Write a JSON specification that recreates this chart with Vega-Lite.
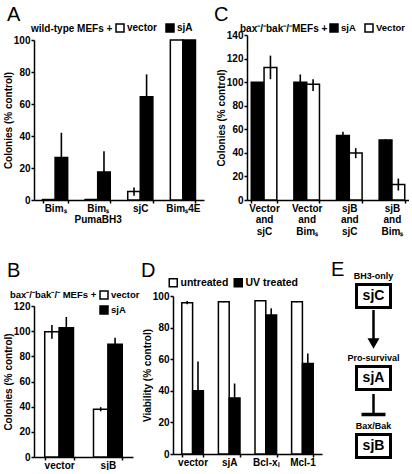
{
 "$schema": "https://vega.github.io/schema/vega-lite/v6.json",
 "background": "white",
 "padding": {"left": 3, "top": 5, "right": 0, "bottom": 0},
 "spacing": 24,
 "resolve": {"scale": {"color": "independent", "x": "independent", "y": "independent", "xOffset": "independent"}, "legend": {"color": "independent"}},
 "vconcat": [
  {
   "hconcat": [
    {
     "width": 170, "height": 165,
     "title": {"text": "A", "dx": -27, "dy": 6},
     "data": {"values": [
      {"cat": "Bimₛ", "grp": "vector", "v": 0.3},
      {"cat": "Bimₛ", "grp": "sjA", "v": 26.5, "lo": 11, "hi": 42},
      {"cat": "Bimₛ|PumaBH3", "grp": "vector", "v": 0.3},
      {"cat": "Bimₛ|PumaBH3", "grp": "sjA", "v": 17.5, "lo": 5, "hi": 30.5},
      {"cat": "sjC", "grp": "vector", "v": 5.3, "lo": 2.7, "hi": 7.8},
      {"cat": "sjC", "grp": "sjA", "v": 64.5, "lo": 50, "hi": 78.5},
      {"cat": "Bimₛ4E", "grp": "vector", "v": 100},
      {"cat": "Bimₛ4E", "grp": "sjA", "v": 100}
     ]},
     "encoding": {
      "x": {"field": "cat", "type": "nominal", "sort": ["Bimₛ", "Bimₛ|PumaBH3", "sjC", "Bimₛ4E"], "scale": {"paddingInner": 0.41, "paddingOuter": 0.2}, "axis": {"title": null, "labelExpr": "split(datum.label, '|')"}}},
     "layer": [
      {"mark": {"type": "bar"},
       "encoding": {
        "xOffset": {"field": "grp", "type": "nominal", "sort": ["vector", "sjA"], "scale": {"paddingInner": 0, "paddingOuter": 0}},
        "y": {"field": "v", "type": "quantitative", "scale": {"domain": [0, 100], "range": [165, 5], "nice": false}, "axis": {"values": [0, 20, 40, 60, 80, 100], "labelOverlap": false, "title": "Colonies (% control)"}},
        "color": {"field": "grp", "type": "nominal", "sort": ["vector", "sjA"], "scale": {"domain": ["vector", "sjA"], "range": ["white", "black"]},
         "legend": {"orient": "none", "legendX": -3, "legendY": -12, "direction": "horizontal", "title": "wild-type MEFs +", "titleOrient": "left", "titlePadding": 2, "labelOffset": 2, "columnPadding": 5}}
       }},
      {"transform": [{"filter": "isValid(datum.lo)"}], "mark": {"type": "rule", "strokeWidth": 1.6, "color": "black"},
       "encoding": {
        "xOffset": {"field": "grp", "type": "nominal", "sort": ["vector", "sjA"], "scale": {"paddingInner": 0, "paddingOuter": 0}},
        "y": {"field": "lo", "type": "quantitative", "axis": {"values": [0, 20, 40, 60, 80, 100], "labelOverlap": false, "title": "Colonies (% control)"}}, "y2": {"field": "hi"}}}
     ]
    },
    {
     "width": 162, "height": 165,
     "title": {"text": "C", "dx": -33, "dy": 6},
     "data": {"values": [
      {"cat": "Vector|and|sjC", "grp": "sjA", "v": 100},
      {"cat": "Vector|and|sjC", "grp": "Vector", "v": 112.5, "lo": 102.5, "hi": 122.5},
      {"cat": "Vector|and|Bimₛ", "grp": "sjA", "v": 100, "lo": 94, "hi": 106.5},
      {"cat": "Vector|and|Bimₛ", "grp": "Vector", "v": 98.3, "lo": 92.5, "hi": 102.5},
      {"cat": "sjB|and|sjC", "grp": "sjA", "v": 54.8, "lo": 51.5, "hi": 58},
      {"cat": "sjB|and|sjC", "grp": "Vector", "v": 39.8, "lo": 35.5, "hi": 44},
      {"cat": "sjB|and|Bimₛ", "grp": "sjA", "v": 50.9, "lo": 50, "hi": 51.7},
      {"cat": "sjB|and|Bimₛ", "grp": "Vector", "v": 13.1, "lo": 8, "hi": 18.2}
     ]},
     "encoding": {
      "x": {"field": "cat", "type": "nominal", "sort": ["Vector|and|sjC", "Vector|and|Bimₛ", "sjB|and|sjC", "sjB|and|Bimₛ"], "scale": {"paddingInner": 0.4, "paddingOuter": 0.1}, "axis": {"title": null, "labelExpr": "split(datum.label, '|')"}}},
     "layer": [
      {"mark": {"type": "bar"},
       "encoding": {
        "xOffset": {"field": "grp", "type": "nominal", "sort": ["sjA", "Vector"], "scale": {"paddingInner": 0, "paddingOuter": 0}},
        "y": {"field": "v", "type": "quantitative", "scale": {"domain": [0, 140], "nice": false}, "axis": {"values": [0, 20, 40, 60, 80, 100, 120, 140], "labelOverlap": false, "title": "Colonies (% control)"}},
        "color": {"field": "grp", "type": "nominal", "sort": ["sjA", "Vector"], "scale": {"domain": ["sjA", "Vector"], "range": ["black", "white"]},
         "legend": {"orient": "none", "legendX": -7, "legendY": -12, "direction": "horizontal", "title": "bax⁻/⁻bak⁻/⁻MEFs +", "titleOrient": "left", "titlePadding": 1, "labelOffset": 2, "columnPadding": 6, "labelFontSize": 9.5}}
       }},
      {"transform": [{"filter": "isValid(datum.lo)"}], "mark": {"type": "rule", "strokeWidth": 1.6, "color": "black"},
       "encoding": {
        "xOffset": {"field": "grp", "type": "nominal", "sort": ["sjA", "Vector"], "scale": {"paddingInner": 0, "paddingOuter": 0}},
        "y": {"field": "lo", "type": "quantitative", "axis": {"values": [0, 20, 40, 60, 80, 100, 120, 140], "labelOverlap": false, "title": "Colonies (% control)"}}, "y2": {"field": "hi"}}}
     ]
    }
   ],
   "spacing": 43,
   "bounds": "flush",
   "resolve": {"scale": {"color": "independent", "x": "independent", "y": "independent", "xOffset": "independent"}, "legend": {"color": "independent"}}
  },
  {
   "hconcat": [
    {
     "width": 99, "height": 161,
     "title": {"text": "B", "dx": -27, "dy": -5},
     "data": {"values": [
      {"cat": "vector", "grp": "vector", "v": 99.5, "lo": 94, "hi": 105},
      {"cat": "vector", "grp": "sjA", "v": 102.8, "lo": 94, "hi": 111.3},
      {"cat": "sjB", "grp": "vector", "v": 38, "lo": 36.3, "hi": 39.6},
      {"cat": "sjB", "grp": "sjA", "v": 89.6, "lo": 84, "hi": 94.8}
     ]},
     "encoding": {
      "x": {"field": "cat", "type": "nominal", "sort": ["vector", "sjB"], "scale": {"paddingInner": 0.41, "paddingOuter": 0.22}, "axis": {"title": null}}},
     "layer": [
      {"mark": {"type": "bar"},
       "encoding": {
        "xOffset": {"field": "grp", "type": "nominal", "sort": ["vector", "sjA"], "scale": {"paddingInner": 0, "paddingOuter": 0}},
        "y": {"field": "v", "type": "quantitative", "scale": {"domain": [0, 120], "range": [161, 10], "nice": false}, "axis": {"values": [0, 20, 40, 60, 80, 100, 120], "labelOverlap": false, "title": "Colonies (% control)"}},
        "color": {"field": "grp", "type": "nominal", "sort": ["vector", "sjA"], "scale": {"domain": ["vector", "sjA"], "range": ["white", "black"]},
         "legend": {"orient": "none", "legendX": -24, "legendY": -6, "direction": "vertical", "title": "bax⁻/⁻bak⁻/⁻ MEFs +", "titleOrient": "left", "titleAnchor": "start", "titleBaseline": "top", "titlePadding": 2, "labelOffset": 2, "rowPadding": 1, "titleFontSize": 9.5, "labelFontSize": 9.5}}
       }},
      {"transform": [{"filter": "isValid(datum.lo)"}], "mark": {"type": "rule", "strokeWidth": 1.6, "color": "black"},
       "encoding": {
        "xOffset": {"field": "grp", "type": "nominal", "sort": ["vector", "sjA"], "scale": {"paddingInner": 0, "paddingOuter": 0}},
        "y": {"field": "lo", "type": "quantitative", "axis": {"values": [0, 20, 40, 60, 80, 100, 120], "labelOverlap": false, "title": "Colonies (% control)"}}, "y2": {"field": "hi"}}}
     ]
    },
    {
     "width": 149, "height": 158,
     "title": {"text": "D", "dx": -32, "dy": 8},
     "data": {"values": [
      {"cat": "vector", "grp": "untreated", "v": 95.8, "lo": 94.7, "hi": 96.8},
      {"cat": "vector", "grp": "UV treated", "v": 40, "lo": 21.5, "hi": 58.5},
      {"cat": "sjA", "grp": "untreated", "v": 96.4, "lo": 96, "hi": 96.8},
      {"cat": "sjA", "grp": "UV treated", "v": 35.5, "lo": 26.5, "hi": 44.6},
      {"cat": "Bcl-xₗ", "grp": "untreated", "v": 97},
      {"cat": "Bcl-xₗ", "grp": "UV treated", "v": 88, "lo": 84, "hi": 92.2},
      {"cat": "Mcl-1", "grp": "untreated", "v": 96.4, "lo": 96, "hi": 96.8},
      {"cat": "Mcl-1", "grp": "UV treated", "v": 57.2, "lo": 51, "hi": 63.6}
     ]},
     "encoding": {
      "x": {"field": "cat", "type": "nominal", "sort": ["vector", "sjA", "Bcl-xₗ", "Mcl-1"], "scale": {"paddingInner": 0.41, "paddingOuter": 0.24}, "axis": {"title": null}}},
     "layer": [
      {"mark": {"type": "bar"},
       "encoding": {
        "xOffset": {"field": "grp", "type": "nominal", "sort": ["untreated", "UV treated"], "scale": {"paddingInner": 0, "paddingOuter": 0}},
        "y": {"field": "v", "type": "quantitative", "scale": {"domain": [0, 100], "nice": false}, "axis": {"values": [0, 20, 40, 60, 80, 100], "labelOverlap": false, "title": "Viability (% control)"}},
        "color": {"field": "grp", "type": "nominal", "sort": ["untreated", "UV treated"], "scale": {"domain": ["untreated", "UV treated"], "range": ["white", "black"]},
         "legend": {"orient": "none", "legendX": -5, "legendY": -19, "direction": "horizontal", "title": null, "labelOffset": 2, "columnPadding": 2, "labelFontSize": 10.5}}
       }},
      {"transform": [{"filter": "isValid(datum.lo)"}], "mark": {"type": "rule", "strokeWidth": 1.6, "color": "black"},
       "encoding": {
        "xOffset": {"field": "grp", "type": "nominal", "sort": ["untreated", "UV treated"], "scale": {"paddingInner": 0, "paddingOuter": 0}},
        "y": {"field": "lo", "type": "quantitative", "axis": {"values": [0, 20, 40, 60, 80, 100], "labelOverlap": false, "title": "Viability (% control)"}}, "y2": {"field": "hi"}}}
     ]
    },
    {
     "width": 23, "height": 158,
     "title": {"text": "E", "dx": -31, "dy": 12},
     "encoding": {
      "x": {"datum": 0, "type": "quantitative", "scale": {"domain": [-1, 1], "nice": false, "zero": false}, "axis": null}
     },
     "layer": [
      {"data": {"values": [{"k": "arrow", "y": 14, "y2": 43}, {"k": "inhibit", "y": 98, "y2": 118}]},
       "mark": {"type": "rule", "strokeWidth": 2.5, "color": "black"},
       "encoding": {"y": {"field": "y", "type": "quantitative", "scale": {"domain": [0, 158], "reverse": true, "nice": false, "zero": false}, "axis": null}, "y2": {"field": "y2"}}},
      {"data": {"values": [{"k": "arrow", "y": 47.5}]},
       "mark": {"type": "point", "shape": "triangle-down", "size": 144, "filled": true, "color": "black", "opacity": 1},
       "encoding": {"y": {"field": "y", "type": "quantitative", "scale": {"domain": [0, 158], "reverse": true, "nice": false, "zero": false}, "axis": null}}},
      {"data": {"values": [{"k": "inhibit", "y": 118.5}]},
       "mark": {"type": "point", "shape": "M-1,0L1,0", "size": 576, "filled": false, "stroke": "black", "strokeWidth": 3.5, "opacity": 1},
       "encoding": {"y": {"field": "y", "type": "quantitative", "scale": {"domain": [0, 158], "reverse": true, "nice": false, "zero": false}, "axis": null}}},
      {"data": {"values": [{"name": "sjC", "head": "BH3-only", "y": 0}, {"name": "sjA", "head": "Pro-survival", "y": 82}, {"name": "sjB", "head": "Bax/Bak", "y": 150}]},
       "layer": [
        {"mark": {"type": "point", "shape": "M-1,-0.676L1,-0.676L1,0.676L-1,0.676Z", "size": 1156, "filled": true, "fill": "white", "stroke": "black", "strokeWidth": 3, "opacity": 1},
         "encoding": {"y": {"field": "y", "type": "quantitative", "scale": {"domain": [0, 158], "reverse": true, "nice": false, "zero": false}, "axis": null}}},
        {"mark": {"type": "text", "fontSize": 14, "fontWeight": "bold", "baseline": "middle", "color": "black"},
         "encoding": {"y": {"field": "y", "type": "quantitative", "scale": {"domain": [0, 158], "reverse": true, "nice": false, "zero": false}, "axis": null}, "text": {"field": "name"}}},
        {"mark": {"type": "text", "fontSize": 9, "fontWeight": "bold", "baseline": "middle", "dy": -20, "color": "black"},
         "encoding": {"y": {"field": "y", "type": "quantitative", "scale": {"domain": [0, 158], "reverse": true, "nice": false, "zero": false}, "axis": null}, "text": {"field": "head"}}}
       ]}
     ]
    }
   ],
   "spacing": 40,
   "bounds": "flush",
   "resolve": {"scale": {"color": "independent", "x": "independent", "y": "independent", "xOffset": "independent"}, "legend": {"color": "independent"}}
  }
 ],
 "config": {
  "font": "Liberation Sans",
  "view": {"stroke": null},
  "axis": {"domainColor": "black", "domainWidth": 1.5, "tickColor": "black", "tickWidth": 1.5, "tickSize": 3, "labelFontWeight": "bold", "labelFontSize": 10, "labelColor": "black", "labelPadding": 1, "labelOverlap": false, "labelFlush": false, "titleFontWeight": "bold", "titleFontSize": 10, "titleColor": "black", "titlePadding": 0, "grid": false, "labelAngle": 0},
  "axisX": {"tickBand": "extent", "labelPadding": 0, "labelLineHeight": 11.5, "labelBaseline": "top"},
  "axisY": {"labelOverlap": false},
  "legend": {"symbolType": "square", "symbolSize": 64, "symbolStrokeColor": "black", "symbolStrokeWidth": 1.5, "symbolOpacity": 1, "labelFontWeight": "bold", "labelFontSize": 10, "labelColor": "black", "titleFontWeight": "bold", "titleFontSize": 10, "titleColor": "black", "padding": 0},
  "title": {"fontSize": 20, "fontWeight": "normal", "anchor": "start", "frame": "group", "color": "black", "offset": 0, "baseline": "alphabetic"},
  "bar": {"stroke": "black", "strokeWidth": 1.5}
 }
}
